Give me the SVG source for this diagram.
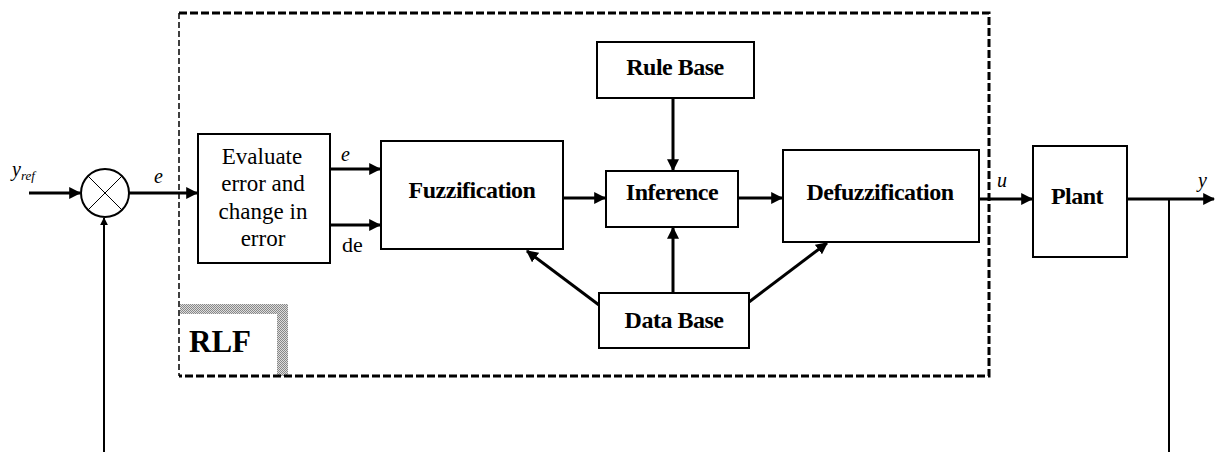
<svg xmlns="http://www.w3.org/2000/svg" width="1215" height="452" viewBox="0 0 1215 452">
<defs>
<style>
.box{fill:#fff;stroke:#000;stroke-width:2}
text{font-family:'Liberation Serif','Times New Roman',Times,'DejaVu Serif',serif;fill:#000}
.lbl{font-size:24px;font-weight:bold;text-anchor:middle;letter-spacing:-0.5px}
.txt{font-size:23px;text-anchor:middle}
.sig{font-size:20px;font-style:italic}
.ln{stroke:#000;stroke-width:3;fill:none}
.thin{stroke:#000;stroke-width:2;fill:none}
</style>
<marker id="ah" viewBox="0 0 10 10" refX="9" refY="5" markerWidth="4" markerHeight="4" orient="auto" markerUnits="strokeWidth">
<path d="M0,0 L10,5 L0,10 z" fill="#000"/>
</marker>
<pattern id="dots" width="2" height="2" patternUnits="userSpaceOnUse">
<rect width="2" height="2" fill="#ddd"/><rect width="1" height="1" fill="#888"/><rect x="1" y="1" width="1" height="1" fill="#888"/>
</pattern>
</defs>
<rect width="1215" height="452" fill="#fff"/>

<g id="rlf-frame">
<rect x="277" y="304" width="11" height="72" fill="url(#dots)"/>
<rect x="180" y="304" width="108" height="10" fill="url(#dots)"/>
<line x1="179" y1="13" x2="179" y2="376" stroke="#000" stroke-width="1.5" stroke-dasharray="6,3"/>
<polyline points="179,13 989,13 989,376 179,376" fill="none" stroke="#000" stroke-width="3" stroke-dasharray="8,3"/>
<text x="189" y="352" font-size="31" font-weight="bold">RLF</text>
</g>

<g id="sum">
<circle cx="105" cy="193" r="24" fill="#fff" stroke="#000" stroke-width="2"/>
<line x1="88" y1="176" x2="122" y2="210" stroke="#000" stroke-width="1"/>
<line x1="122" y1="176" x2="88" y2="210" stroke="#000" stroke-width="1"/>
</g>

<g id="evaluate">
<rect class="box" x="198" y="134" width="132" height="129"/>
<text class="txt" x="262" y="164">Evaluate</text>
<text class="txt" x="263" y="191">error and</text>
<text class="txt" x="263" y="219">change in</text>
<text class="txt" x="263" y="246">error</text>
</g>

<g id="fuzzification">
<rect class="box" x="381" y="141" width="182" height="108"/>
<text class="lbl" x="472" y="198">Fuzzification</text>
</g>

<g id="rulebase">
<rect class="box" x="597" y="42" width="157" height="56"/>
<text class="lbl" x="675" y="75">Rule Base</text>
</g>

<g id="inference">
<rect class="box" x="606" y="171" width="132" height="56"/>
<text class="lbl" x="672" y="200">Inference</text>
</g>

<g id="database">
<rect class="box" x="599" y="293" width="150" height="55"/>
<text class="lbl" x="674" y="328">Data Base</text>
</g>

<g id="defuzzification">
<rect class="box" x="783" y="150" width="196" height="92"/>
<text class="lbl" x="880" y="200">Defuzzification</text>
</g>

<g id="plant">
<rect class="box" x="1033" y="146" width="94" height="111"/>
<text class="lbl" x="1077" y="204">Plant</text>
</g>

<g id="connectors">
<line class="ln" x1="29" y1="193" x2="80" y2="193" marker-end="url(#ah)"/>
<line class="thin" x1="104" y1="452" x2="104" y2="218" marker-end="url(#ah)"/>
<line class="ln" x1="129" y1="193" x2="197" y2="193" marker-end="url(#ah)"/>
<line class="ln" x1="330" y1="169" x2="380" y2="169" marker-end="url(#ah)"/>
<line class="ln" x1="330" y1="225" x2="380" y2="225" marker-end="url(#ah)"/>
<line class="ln" x1="563" y1="198" x2="605" y2="198" marker-end="url(#ah)"/>
<line class="ln" x1="673" y1="98" x2="673" y2="170" marker-end="url(#ah)"/>
<line class="ln" x1="738" y1="198" x2="782" y2="198" marker-end="url(#ah)"/>
<line class="ln" x1="673" y1="293" x2="673" y2="228" marker-end="url(#ah)"/>
<line class="ln" x1="599" y1="305" x2="527" y2="251" marker-end="url(#ah)"/>
<line class="ln" x1="749" y1="302" x2="827" y2="243" marker-end="url(#ah)"/>
<line class="ln" x1="979" y1="199" x2="1032" y2="199" marker-end="url(#ah)"/>
<line class="ln" x1="1127" y1="199" x2="1214" y2="199" marker-end="url(#ah)"/>
<line class="thin" x1="1169" y1="199" x2="1169" y2="452"/>
</g>

<g id="labels">
<text class="sig" x="12" y="176" font-size="24">y<tspan font-size="13" dy="4">ref</tspan></text>
<text class="sig" x="154" y="183">e</text>
<text class="sig" x="341" y="161">e</text>
<text x="342" y="252" font-size="22">de</text>
<text class="sig" x="997" y="187">u</text>
<text class="sig" x="1198" y="187" font-size="22">y</text>
</g>
</svg>
